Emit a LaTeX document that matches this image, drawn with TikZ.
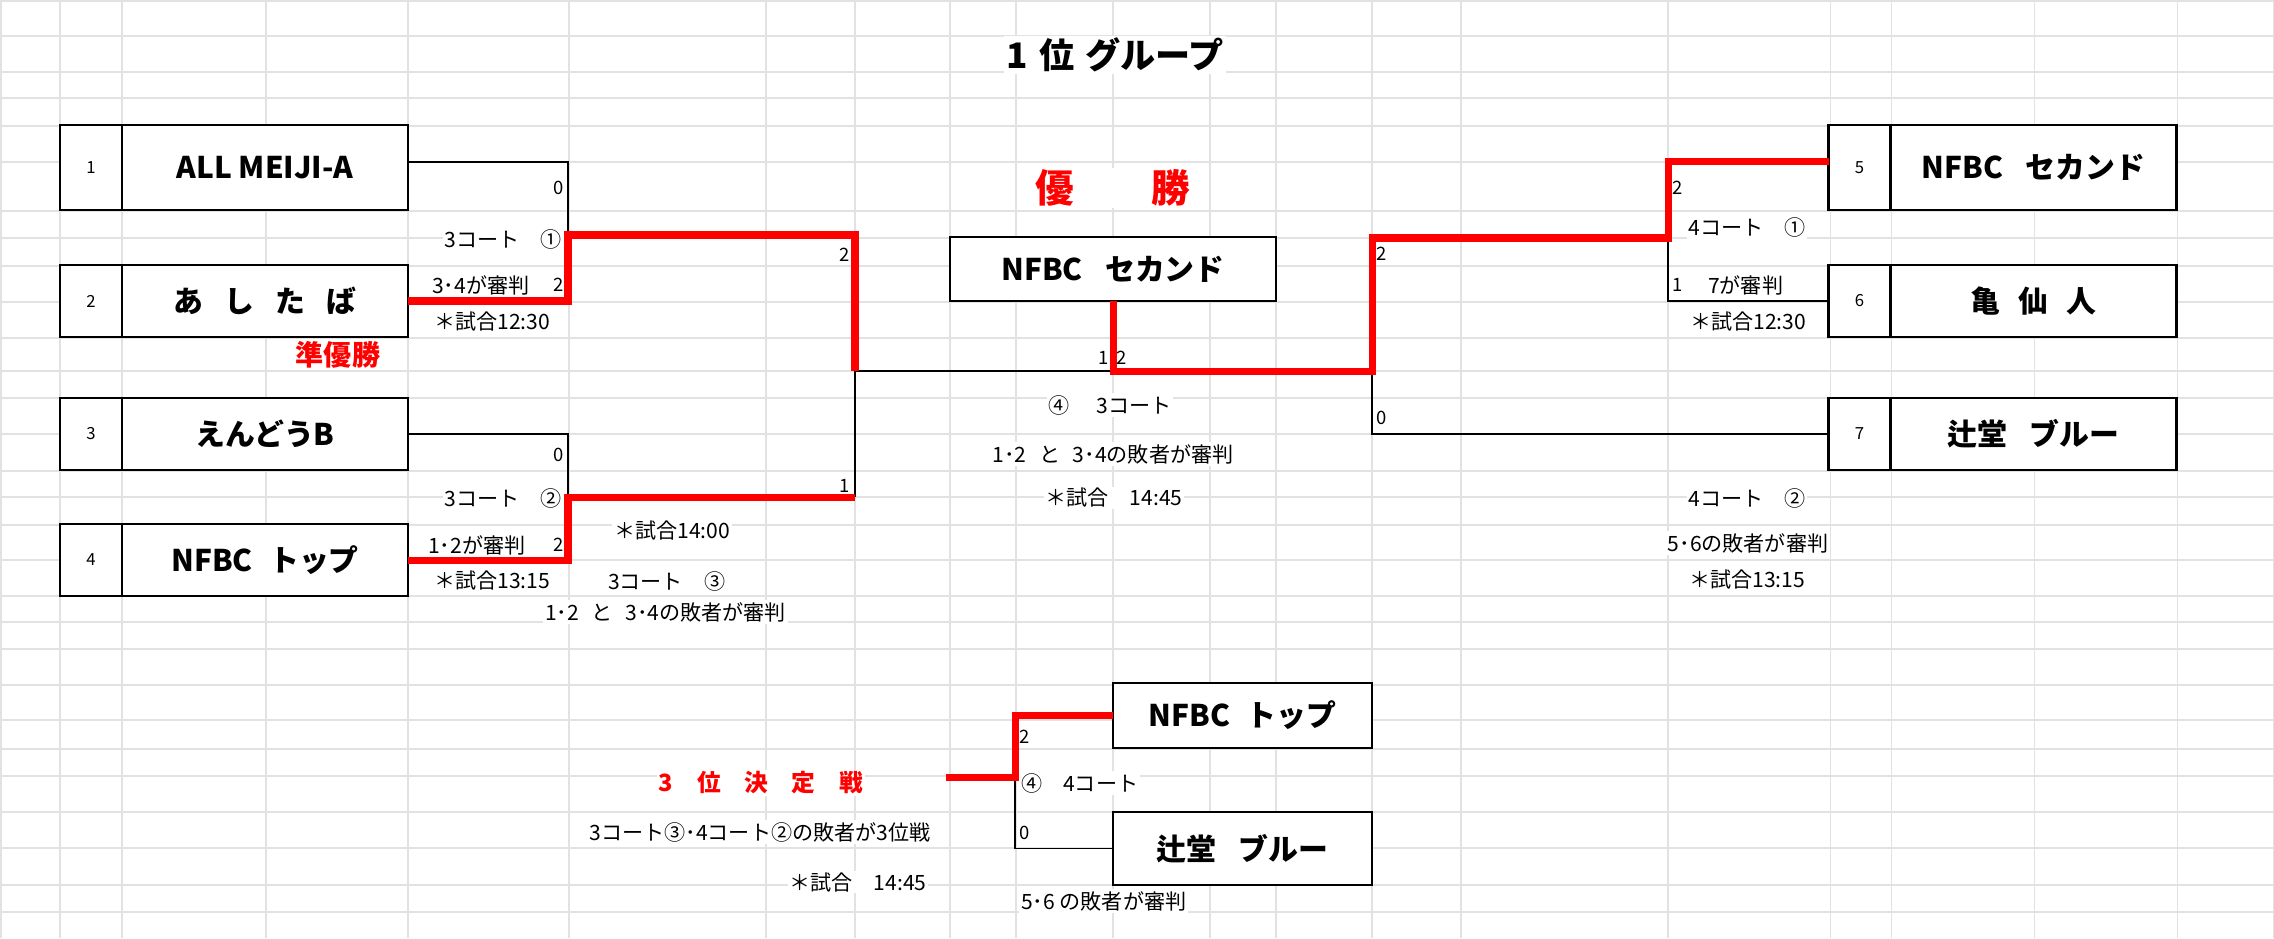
\documentclass[tikz,border=0pt]{standalone}
\usepackage{fontspec}
\setmainfont{Noto Sans CJK JP}
\usetikzlibrary{positioning}

\definecolor{cellgrid}{RGB}{226,226,226}
\definecolor{winred}{RGB}{255,0,0}

\tikzset{
  gridline/.style={draw=cellgrid,line width=0.6pt},
  seedbox/.style={draw,line width=1.6pt,fill=white,inner sep=0pt,outer sep=0pt,
    minimum width=1.24cm,font=\fontsize{9.5}{10}\selectfont},
  teambox/.style={draw,line width=1.6pt,fill=white,inner sep=0pt,outer sep=0pt,
    minimum width=5.72cm,font=\fontsize{17}{19}\selectfont\bfseries},
  finalbox/.style={draw,line width=1.4pt,fill=white,inner sep=0pt,outer sep=0pt,
    font=\fontsize{17}{19}\selectfont\bfseries},
  wire/.style={line width=1.1pt},
  winwire/.style={draw=winred,line width=4pt},
  score/.style={inner sep=1pt,font=\fontsize{10.5}{12}\selectfont},
  note/.style={fill=white,inner sep=1pt,font=\fontsize{12}{13}\selectfont},
  redtitle/.style={text=winred,fill=white,inner sep=1pt}
}

\begin{document}
\begin{tikzpicture}[x=0.02cm,y=-0.02cm]
\useasboundingbox (0,0) rectangle (2274,938);
% cell grid of the sheet
\foreach \x in {1,60,122,266,408,569,766,855,950,1016,1113,1210,1276,1372,1461,1668,1830,1891,2034,2177,2273}
  \draw[gridline] (\x,0) -- (\x,938);
\foreach \y in {1,36,72,98,126,162,211,238,266,302,338,371,398,434,471,497,525,560,596,622,649,685,720,749,776,812,848,885,912}
  \draw[gridline] (0,\y) -- (2274,\y);

\node[fill=white,inner sep=1pt,font=\fontsize{20}{22}\selectfont\bfseries] (title) at (1115,55) {1\hspace{.35em}位\hspace{.3em}グループ};

% left teams
\node[seedbox,minimum height=1.7cm] (s1) at (91,167.5) {1};
\node[teambox,minimum height=1.7cm,right=0pt of s1] (t1) {ALL MEIJI-A};
\node[seedbox,minimum height=1.44cm] (s2) at (91,301) {2};
\node[teambox,minimum height=1.44cm,right=0pt of s2] (t2) {あ\hspace{.7em}し\hspace{.7em}た\hspace{.7em}ば};
\node[seedbox,minimum height=1.44cm] (s3) at (91,434) {3};
\node[teambox,minimum height=1.44cm,right=0pt of s3] (t3) {えんどうB};
\node[seedbox,minimum height=1.44cm] (s4) at (91,560) {4};
\node[teambox,minimum height=1.44cm,right=0pt of s4] (t4) {NFBC\hspace{.55em}トップ};

% right teams
\node[seedbox,minimum height=1.7cm] (s5) at (1859.5,167.5) {5};
\node[teambox,minimum height=1.7cm,right=0pt of s5] (t5) {NFBC\hspace{.75em}セカンド};
\node[seedbox,minimum height=1.44cm] (s6) at (1859.5,301) {6};
\node[teambox,minimum height=1.44cm,right=0pt of s6] (t6) {亀\hspace{.6em}仙\hspace{.6em}人};
\node[seedbox,minimum height=1.44cm] (s7) at (1859.5,434) {7};
\node[teambox,minimum height=1.44cm,right=0pt of s7] (t7) {辻堂\hspace{.75em}ブルー};

% winner and third place boxes
\node[finalbox,minimum width=6.52cm,minimum height=1.28cm] (champ) at (1113,269) {NFBC\hspace{.75em}セカンド};
\node[finalbox,minimum width=5.18cm,minimum height=1.3cm] (b1) at (1242.5,715.5) {NFBC\hspace{.55em}トップ};
\node[finalbox,minimum width=5.18cm,minimum height=1.46cm] (b2) at (1242.5,848.5) {辻堂\hspace{.75em}ブルー};

\node[redtitle,font=\fontsize{22}{24}\selectfont\bfseries] (win) at (1113,188) {優　　勝};
\node[redtitle,font=\fontsize{16}{18}\selectfont\bfseries] (runner) at (338,355) {準優勝};
\node[redtitle,font=\fontsize{13.5}{15}\selectfont\bfseries] (third) at (761,783) {3　位　決　定　戦};

% left side notes
\node[score,anchor=east] (sc1) at (566,188) {0};
\node[note,anchor=east] (c1) at (564,239) {3コート　①};
\node[note,anchor=west] (r1) at (430,285) {3･4が審判};
\node[score,anchor=east] (sc2) at (566,285) {2};
\node[note,anchor=west] (tm1) at (432,322) {＊試合12:30};
\node[score,anchor=east] (sc3) at (566,455) {0};
\node[note,anchor=east] (c2) at (564,498) {3コート　②};
\node[note,anchor=west] (r2) at (426,545) {1･2が審判};
\node[score,anchor=east] (sc4) at (566,545) {2};
\node[note,anchor=west] (tm2) at (432,581) {＊試合13:15};
\node[note,anchor=west] (tm3) at (612,531) {＊試合14:00};
\node[note,anchor=west] (c3) at (606,581) {3コート　③};
\node[note,anchor=west] (r3) at (543,612) {1･2\hspace{.6em}と\hspace{.6em}3･4の敗者が審判};
\node[score,anchor=east] (sc5) at (852,255) {2};
\node[score,anchor=east] (sc6) at (852,486) {1};

% final notes
\node[score,anchor=east] (sc7) at (1111,358) {1};
\node[score,anchor=west] (sc8) at (1114,358) {2};
\node[note] (c4) at (1110,405) {④　\hspace{.3em}3コート};
\node[note] (r4) at (1113,454) {1･2\hspace{.6em}と\hspace{.6em}3･4の敗者が審判};
\node[note] (tm4) at (1114,498) {＊試合　14:45};

% right side notes
\node[score,anchor=west] (sc9) at (1374,254) {2};
\node[score,anchor=west] (sc10) at (1374,418) {0};
\node[score,anchor=west] (sc11) at (1670,188) {2};
\node[note] (c5) at (1747,227) {4コート　①};
\node[score,anchor=west] (sc12) at (1670,285) {1};
\node[note,anchor=west] (r5) at (1706,285) {7が審判};
\node[note] (tm5) at (1748,322) {＊試合12:30};
\node[note] (c6) at (1747,498) {4コート　②};
\node[note] (r6) at (1748,543) {5･6の敗者が審判};
\node[note] (tm6) at (1747,580) {＊試合13:15};

% third place notes
\node[note] (r7) at (760,832) {3コート③･4コート②の敗者が3位戦};
\node[note] (tm7) at (858,882) {＊試合　14:45};
\node[score,anchor=west] (sc13) at (1017,737) {2};
\node[note,anchor=west] (c7) at (1019,783) {④　4コート};
\node[score,anchor=west] (sc14) at (1017,833) {0};
\node[note,anchor=west] (r8) at (1019,901) {5･6 の敗者が審判};

% bracket lines
\coordinate (j1) at (568,235);
\coordinate (j2) at (568,497);
\coordinate (j3) at (855,371);
\coordinate (k3) at (855,497);
\coordinate (jf) at (1113,371);
\coordinate (j4) at (1668,238);
\coordinate (j5) at (1372,371);
\coordinate (j6) at (1015,777);
\coordinate (j7) at (946,777);

\draw[wire] ([yshift=3.4pt]t1.east) -| (j1);
\draw[wire] (t3.east) -| (j2);
\draw[wire] (k3) -- (j3) -- (jf);
\draw[wire] (s6.west) -| (j4);
\draw[wire] (s7.west) -| (j5);
\draw[wire] (j6) |- (b2.west);
\draw[winwire] (t2.east) -| (j1) -| (j3);
\draw[winwire] (t4.east) -| (j2) -- (k3);
\draw[winwire] ([yshift=3.4pt]s5.west) -| (j4) -| (j5) -- (jf) -- (champ.south);
\draw[winwire] (j7) -- (j6) |- (b1.west);
\end{tikzpicture}
\end{document}
